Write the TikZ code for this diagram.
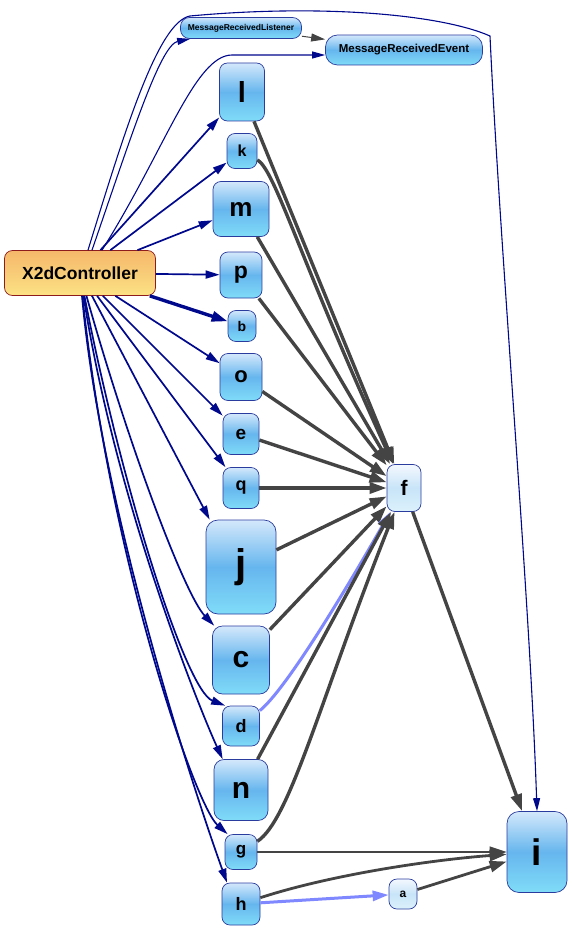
\documentclass[tikz,border=0pt]{standalone}
\usepackage{fontspec}
\setmainfont{Liberation Sans}
\usetikzlibrary{arrows.meta}

\definecolor{navyedge}{HTML}{00088C}
\definecolor{grayedge}{HTML}{444444}
\definecolor{paleedge}{HTML}{8088FF}
\definecolor{nodetop}{HTML}{D4E8FB}
\definecolor{nodemid}{HTML}{66B6EE}
\definecolor{nodebot}{HTML}{80DCF8}
\definecolor{nodeborder}{HTML}{2A3C9E}
\definecolor{paletop}{HTML}{F4F8FE}
\definecolor{palemid}{HTML}{C8E4F8}
\definecolor{palebot}{HTML}{DCF2FC}
\definecolor{ctrltop}{HTML}{F6B86A}
\definecolor{ctrlmid}{HTML}{F8CC78}
\definecolor{ctrlbot}{HTML}{FCE284}
\definecolor{ctrlborder}{HTML}{8E1C1C}

\begin{document}
\begin{tikzpicture}[x=1pt, y=-1pt,
    cls/.style={draw=nodeborder, line width=0.7pt, rounded corners=8pt, inner sep=0pt,
      top color=nodetop, bottom color=nodebot, middle color=nodemid},
    pale/.style={cls, top color=paletop, bottom color=palebot, middle color=palemid},
    ctrl/.style={cls, draw=ctrlborder, top color=ctrltop, bottom color=ctrlbot, middle color=ctrlmid},
    sz/.style 2 args={minimum width=#1pt, minimum height=#2pt},
    lbl/.style={font=\bfseries\fontsize{#1}{#1}\selectfont},
    dep/.style={draw=navyedge, line width=1.7pt, -{Triangle[length=14pt,width=8pt]}},
    thindep/.style={draw=navyedge, line width=1.1pt, -{Triangle[length=13pt,width=7pt]}},
    use/.style={draw=grayedge, line width=3.4pt, -{Triangle[length=17pt,width=11pt]}},
    weak/.style={draw=paleedge, line width=3pt, -{Triangle[length=16pt,width=10pt]}}]
  \useasboundingbox (0,0) rectangle (572,931);

  % nodes
  \node[ctrl, sz={151}{45}, lbl=17.5] (x2d) at (80,273) {X2dController};
  \node[cls, sz={121}{21}, lbl=8.5, rounded corners=9pt] (listener) at (241,28) {MessageReceivedListener};
  \node[cls, sz={157}{30}, lbl=11.5, rounded corners=12pt] (event) at (404,50) {MessageReceivedEvent};
  \node[cls, sz={45}{58}, lbl=29] (l) at (242,92) {l};
  \node[cls, sz={30}{35}, lbl=16] (k) at (242,151) {k};
  \node[cls, sz={56}{55}, lbl=26] (m) at (241,209) {m};
  \node[cls, sz={42}{46}, lbl=23] (p) at (241,275) {p};
  \node[cls, sz={28}{31}, lbl=14] (b) at (242,326) {b};
  \node[cls, sz={42}{47}, lbl=22] (o) at (241,377) {o};
  \node[cls, sz={36}{41}, lbl=19] (e) at (241,434) {e};
  \node[cls, sz={36}{41}, lbl=18] (q) at (241,488) {q};
  \node[cls, sz={70}{94}, lbl=40, rounded corners=12pt] (j) at (241,567) {j};
  \node[cls, sz={57}{68}, lbl=30, rounded corners=10pt] (c) at (241,660) {c};
  \node[cls, sz={37}{40}, lbl=18] (d) at (241,726) {d};
  \node[cls, sz={54}{61}, lbl=30, rounded corners=10pt] (n) at (241,790) {n};
  \node[cls, sz={32}{35}, lbl=17] (g) at (241,852) {g};
  \node[cls, sz={38}{42}, lbl=18] (h) at (241,904) {h};
  \node[pale, sz={34}{47}, lbl=21] (f) at (404,488) {f};
  \node[cls, sz={60}{81}, lbl=37, rounded corners=12pt] (i) at (537,852) {i};
  \node[pale, sz={28}{30}, lbl=12] (a) at (403,894) {a};

  % controller edges
  \draw[thindep] ([xshift=8pt]x2d.north) .. controls (125,130) and (158,22) .. (190,16)
    .. controls (320,4) and (440,14) .. (490,36) .. controls (500,250) and (530,600) .. (i.north);
  \draw[thindep] ([xshift=12pt]x2d.north) .. controls (130,140) and (160,45) .. ([xshift=10pt]listener.south west);
  \draw[thindep] ([xshift=22pt]x2d.north) .. controls (165,150) and (195,55) .. (232,55) -- (event.west |- 0,55);
  \draw[draw=grayedge, line width=1pt, -{Triangle[length=14pt,width=8pt]}] (listener) -- (event);
  \draw[dep] (x2d) -- (l);
  \draw[dep] (x2d) -- (k);
  \draw[dep] (x2d) -- (m);
  \draw[dep] (x2d) -- (p);
  \draw[dep, line width=3.4pt, -{Triangle[length=16pt,width=10pt]}] (x2d) -- (b);
  \draw[dep] (x2d) -- (o);
  \draw[dep] (x2d) -- (e);
  \draw[dep] (x2d) -- (q);
  \draw[dep] (x2d) -- ([xshift=4pt]j.north west);
  \draw[dep] (x2d) .. controls (130,450) and (185,595) .. ([xshift=2pt]c.north west);
  \draw[dep] (x2d) .. controls (120,480) and (185,690) .. ([xshift=3pt]d.north west);
  \draw[dep] (x2d) .. controls (115,500) and (200,710) .. ([xshift=9pt]n.north west);
  \draw[dep] (x2d) .. controls (110,560) and (195,805) .. ([xshift=3pt]g.north west);
  \draw[dep] (x2d) .. controls (100,500) and (190,780) .. ([xshift=-14pt]h.north);

  % edges into f
  \draw[use] (l) -- (f);
  \draw[use] (k) .. controls (275,170) and (300,260) .. (f);
  \draw[use] (m) -- (f);
  \draw[use] (p) -- (f);
  \draw[use] (o) -- (f);
  \draw[use] (e) -- (f);
  \draw[use] (q) -- (f);
  \draw[use] (j) -- (f);
  \draw[use] (c) -- (f);
  \draw[weak] (d) .. controls (285,690) and (340,600) .. (f);
  \draw[use] (n) -- (f);
  \draw[use] (g) .. controls (290,820) and (320,700) .. (f);

  % edges into i
  \draw[use] (f) -- (i);
  \draw[draw=grayedge, line width=1.3pt, -{Triangle[length=17pt,width=11pt]}] (g) -- (i);
  \draw[use, line width=2.8pt] (h) .. controls (330,875) and (430,860) .. (i);
  \draw[weak] (h) -- (a);
  \draw[use, line width=2.8pt] (a) -- (i);
\end{tikzpicture}
\end{document}
